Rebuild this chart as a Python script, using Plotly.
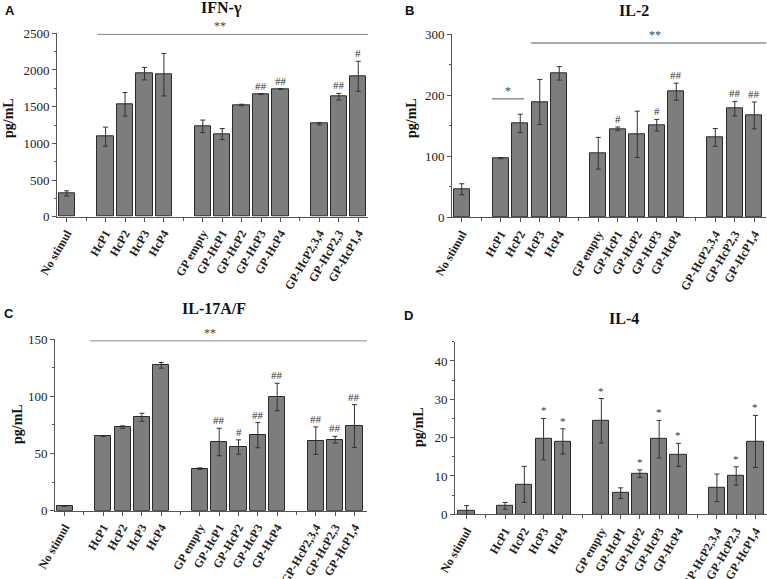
import plotly.graph_objects as go

# ---------------- data ----------------
groups = [
    ["No stimul"],
    ["HcP1", "HcP2", "HcP3", "HcP4"],
    ["GP empty", "GP-HcP1", "GP-HcP2", "GP-HcP3", "GP-HcP4"],
    ["GP-HcP2,3,4", "GP-HcP2,3", "GP-HcP1,4"],
]

ifn_vals = [318, 1091, 1532, 1950, 1936, 1232, 1127, 1523, 1673, 1741, 1268, 1636, 1914]
ifn_err = [35, 130, 160, 85, 290, 85, 75, 10, 5, 5, 15, 45, 205]
ifn_marks = {"GP-HcP3": "##", "GP-HcP4": "##", "GP-HcP2,3": "##", "GP-HcP1,4": "#"}

il2_vals = [46, 97, 154, 189, 236, 105, 145, 136, 151, 206, 131, 178, 167]
il2_err = [9, 1, 15, 37, 11, 26, 3, 38, 9.5, 14, 14.5, 12, 22]
il2_marks = {"GP-HcP1": "#", "GP-HcP3": "#", "GP-HcP4": "##", "GP-HcP2,3": "##", "GP-HcP1,4": "##"}

il17_vals = [4.1, 65.2, 73.1, 81.6, 127, 36.7, 60, 55.6, 66, 99.3, 61.2, 62, 74]
il17_err = [0.3, 0.5, 1, 3.5, 2.5, 0.7, 12, 6.3, 11, 12, 12, 3, 18.7]
il17_marks = {"GP-HcP1": "##", "GP-HcP2": "#", "GP-HcP3": "##", "GP-HcP4": "##",
              "GP-HcP2,3,4": "##", "GP-HcP2,3": "##", "GP-HcP1,4": "##"}

il4_vals = [0.96, 2.2, 7.8, 19.6, 19, 24.4, 5.5, 10.6, 19.6, 15.5, 6.9, 10, 19]
il4_err = [1.3, 0.9, 4.7, 5.4, 3.3, 5.8, 1.4, 1.0, 4.9, 3.0, 3.6, 2.4, 6.8]
il4_marks = {"HcP3": "*", "HcP4": "*", "GP empty": "*", "GP-HcP2": "*", "GP-HcP3": "*",
             "GP-HcP4": "*", "GP-HcP2,3": "*", "GP-HcP1,4": "*"}

titles = ["IFN-γ", "IL-2", "IL-17A/F", "IL-4"]
letters = ["A", "B", "C", "D"]
y_ranges = [(0, 2500), (0, 300), (0, 150), (0, 45)]
y_dticks = [500, 100, 50, 10]

# ---------------- layout helpers ----------------
W, H = 767, 579
labels, positions = [], []
pos = 0
for g in groups:
    for lab in g:
        labels.append(lab)
        positions.append(pos)
        pos += 1
    pos += 1
n_slots = pos - 1
pos_of = dict(zip(labels, positions))

# pixel boxes of the four plot areas: (left, right, top, bottom), x range,
# title centre, y-title centre, panel letter position
panels = [
    dict(box=(57, 368, 33.3, 216.7), xr=(-0.5, 15.5), title=(222, 8), ytl=(8, 118), let=(10, 11)),
    dict(box=(452, 766, 34.3, 217.3), xr=(-0.5, 15.6), title=(634, 10), ytl=(411, 118), let=(409, 10)),
    dict(box=(55, 367, 339, 510.7), xr=(-0.5, 15.65), title=(214, 308), ytl=(17, 424), let=(9, 313)),
    dict(box=(455, 767, 341.8, 514.3), xr=(-0.6, 15.6), title=(624, 318), ytl=(418, 427), let=(408, 315)),
]

serif = "Liberation Serif"
sans = "Liberation Sans"
bar_color = "#7d7d7d"
edge = "#2a2a2a"

fig = go.Figure()
data_sets = [(ifn_vals, ifn_err, ifn_marks), (il2_vals, il2_err, il2_marks),
             (il17_vals, il17_err, il17_marks), (il4_vals, il4_err, il4_marks)]

annotations = []
shapes = []
for i, ((vals, errs, marks), p) in enumerate(zip(data_sets, panels)):
    k = "" if i == 0 else str(i + 1)
    xa, ya = "x" + k, "y" + k
    fig.add_trace(go.Bar(
        x=positions, y=vals, width=0.84,
        marker=dict(color=bar_color, line=dict(color=edge, width=1)),
        error_y=dict(type="data", array=errs, visible=True, color="#333333",
                     thickness=1, width=2.5),
        xaxis=xa, yaxis=ya, showlegend=False, hoverinfo="skip"))
    l, r, t, b = p["box"]
    dom_x = [l / W, r / W]
    dom_y = [1 - b / H, 1 - t / H]
    axis_common = dict(showline=True, linecolor="#555555", linewidth=1,
                       showgrid=False, zeroline=False, ticks="outside",
                       ticklen=4, tickcolor="#555555", automargin=False)
    fig.layout["xaxis" + k] = dict(
        domain=dom_x, range=list(p["xr"]), anchor=ya,
        tickmode="array", tickvals=positions, ticktext=labels, tickangle=-60,
        tickfont=dict(family=serif, size=12, color="#222222", weight="bold"),
        minor=dict(tickmode="array", tickvals=list(range(0, n_slots + 1)),
                   ticks="outside", ticklen=3, tickcolor="#555555"),
        **axis_common)
    fig.layout["yaxis" + k] = dict(
        domain=dom_y, range=list(y_ranges[i]), anchor=xa,
        dtick=y_dticks[i], tickfont=dict(family=serif, size=13, color="#222222"),
        minor=dict(dtick=y_dticks[i] / 2, ticks="outside", ticklen=2,
                   tickcolor="#555555"),
        **axis_common)
    # significance marks above error bars
    for lab, txt in marks.items():
        j = labels.index(lab)
        annotations.append(dict(
            x=positions[j], y=vals[j] + errs[j], xref=xa, yref=ya,
            text=txt, showarrow=False, yanchor="bottom", xanchor="center",
            font=dict(family=serif, size=11, color="#333333")))
    # titles, y titles, letters
    tx, ty = p["title"]
    annotations.append(dict(x=tx / W, y=1 - ty / H, xref="paper", yref="paper",
                            text="<b>%s</b>" % titles[i], showarrow=False,
                            xanchor="center", yanchor="middle",
                            font=dict(family=serif, size=16, color="#111111")))
    yx, yy = p["ytl"]
    annotations.append(dict(x=yx / W, y=1 - yy / H, xref="paper", yref="paper",
                            text="<b>pg/mL</b>", textangle=-90, showarrow=False,
                            xanchor="center", yanchor="middle",
                            font=dict(family=serif, size=14, color="#111111")))
    lx, ly = p["let"]
    annotations.append(dict(x=lx / W, y=1 - ly / H, xref="paper", yref="paper",
                            text="<b>%s</b>" % letters[i], showarrow=False,
                            xanchor="center", yanchor="middle",
                            font=dict(family=sans, size=13, color="#111111")))

# bracket lines for group significance
def bracket(k, x0, x1, yfrac, txt, txt_x, color="#8a8a8a", lw=1):
    xa = "x" + k
    yd = "y" + k + " domain"
    shapes.append(dict(type="line", xref=xa, yref=yd, x0=x0, x1=x1, y0=yfrac, y1=yfrac,
                       line=dict(color=color, width=lw)))
    annotations.append(dict(x=txt_x, y=yfrac, xref=xa, yref=yd, text=txt, showarrow=False,
                            yanchor="bottom", xanchor="center", yshift=-1,
                            font=dict(family=serif, size=12, color="#444444")))

bracket("", pos_of["HcP1"] - 0.42, panels[0]["xr"][1], 0.994, "**", 7.9)
bracket("2", pos_of["HcP3"] - 0.45, panels[1]["xr"][1], 0.953, "**", 9.9, color="#aaaaaa", lw=2)
bracket("2", pos_of["HcP1"] - 0.45, pos_of["HcP2"] + 0.2, 0.647, "*", 2.35, color="#555555")
bracket("3", pos_of["HcP1"] - 0.68, panels[2]["xr"][1], 0.989, "**", 7.5)

fig.update_layout(
    width=W, height=H, margin=dict(l=0, r=0, t=0, b=0),
    plot_bgcolor="white", paper_bgcolor="white",
    annotations=annotations, shapes=shapes, bargap=0,
)
fig.write_html("out.html", config={"displayModeBar": False},
               post_script="document.body.style.margin='0';document.body.style.overflow='hidden';")
